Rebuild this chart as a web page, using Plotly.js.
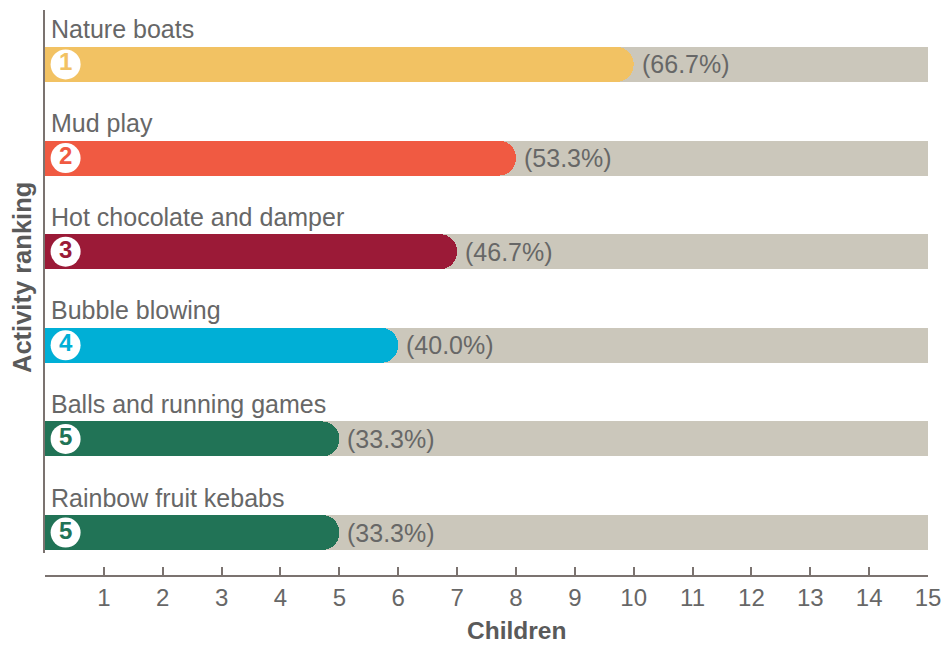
<!DOCTYPE html>
<html>
<head>
<meta charset="utf-8">
<script src="https://cdn.plot.ly/plotly-3.0.1.min.js"></script>
<style>html,body{margin:0;padding:0;background:#fff;}#chart{width:944px;height:645px;}</style>
</head>
<body>
<div id="chart"></div>
<script>
const activities = ["Nature boats", "Mud play", "Hot chocolate and damper", "Bubble blowing", "Balls and running games", "Rainbow fruit kebabs"];
const children = [10, 8, 7, 6, 5, 5];
const percentLabels = ["(66.7%)", "(53.3%)", "(46.7%)", "(40.0%)", "(33.3%)", "(33.3%)"];
const ranks = ["1", "2", "3", "4", "5", "5"];
const barColors = ["#f2c263", "#f05a42", "#9b1a37", "#00afd6", "#217356", "#217356"];
const totalChildren = 15;
const xTicks = [0,1,2,3,4,5,6,7,8,9,10,11,12,13,14,15];
const xTickText = ["","1","2","3","4","5","6","7","8","9","10","11","12","13","14","15"];

const rows = activities.map((_, i) => i);
const textGrey = "#676767";
const axisGrey = "#7b7370";
const font = "Liberation Sans, Arial, Helvetica, sans-serif";

const bgTrace = {
  type: "bar", orientation: "h",
  x: rows.map(() => totalChildren), y: rows,
  yaxis: "y",
  width: 0.374,
  marker: {color: "#cbc7bb", line: {width: 0}},
  hoverinfo: "skip"
};
const fgTrace = {
  type: "bar", orientation: "h",
  x: children, y: rows,
  yaxis: "y2",
  width: 0.374,
  marker: {color: barColors, line: {width: 0}, cornerradius: 17},
  hoverinfo: "skip"
};
const rankTrace = {
  type: "scatter", mode: "markers+text",
  x: rows.map(() => 0.35), y: rows,
  yaxis: "y2",
  marker: {size: 30, color: "#ffffff", line: {width: 0}},
  text: ranks.map(r => "<b>" + r + "</b>"),
  textposition: "middle center",
  textfont: {family: font, size: 24, color: barColors},
  hoverinfo: "skip", cliponaxis: false
};

const annotations = [];
activities.forEach((name, i) => {
  annotations.push({
    xref: "x", yref: "y", x: 0, y: i, xanchor: "left", yanchor: "middle",
    yshift: 35, xshift: 4, text: name, showarrow: false,
    font: {family: font, size: 25, color: textGrey}
  });
  annotations.push({
    xref: "x", yref: "y", x: children[i], y: i, xanchor: "left", yanchor: "middle",
    xshift: 6, text: percentLabels[i], showarrow: false,
    font: {family: font, size: 25, color: textGrey}
  });
});
annotations.push({
  xref: "paper", yref: "paper", x: 0, y: 0.5265, xanchor: "center", yanchor: "middle",
  xshift: -23, text: "<b>Activity ranking</b>", textangle: -90, showarrow: false,
  font: {family: font, size: 25.5, color: "#5a5a5a"}
});
annotations.push({
  xref: "paper", yref: "paper", x: 0.534, y: 0, xanchor: "center", yanchor: "middle",
  yshift: -54, borderpad: 0, text: "<b>Children</b>", showarrow: false,
  font: {family: font, size: 24.5, color: "#5a5a5a"}
});

const yRange = [5.219, -0.582];
const layout = {
  width: 944, height: 645,
  margin: {l: 45, r: 16, t: 10, b: 69},
  paper_bgcolor: "#ffffff", plot_bgcolor: "#ffffff",
  showlegend: false, barmode: "overlay", bargap: 0,
  xaxis: {
    range: [0, 15], tickmode: "array", tickvals: xTicks, ticktext: xTickText,
    ticks: "inside", ticklen: 8, tickwidth: 2, tickcolor: axisGrey,
    showline: true, linecolor: axisGrey, linewidth: 2,
    showgrid: false, zeroline: false, anchor: "free", position: 0,
    tickfont: {family: font, size: 24, color: textGrey}, fixedrange: true
  },
  yaxis: {
    range: yRange, domain: [0.0406, 1],
    showticklabels: false, ticks: "", showgrid: false, zeroline: false,
    showline: true, linecolor: axisGrey, linewidth: 2, fixedrange: true
  },
  yaxis2: {
    range: yRange, domain: [0.0406, 1], overlaying: "y",
    showticklabels: false, ticks: "", showgrid: false, zeroline: false,
    showline: false, fixedrange: true
  },
  annotations: annotations
};

Plotly.newPlot("chart", [bgTrace, fgTrace, rankTrace], layout, {displayModeBar: false, staticPlot: true});
</script>
</body>
</html>
